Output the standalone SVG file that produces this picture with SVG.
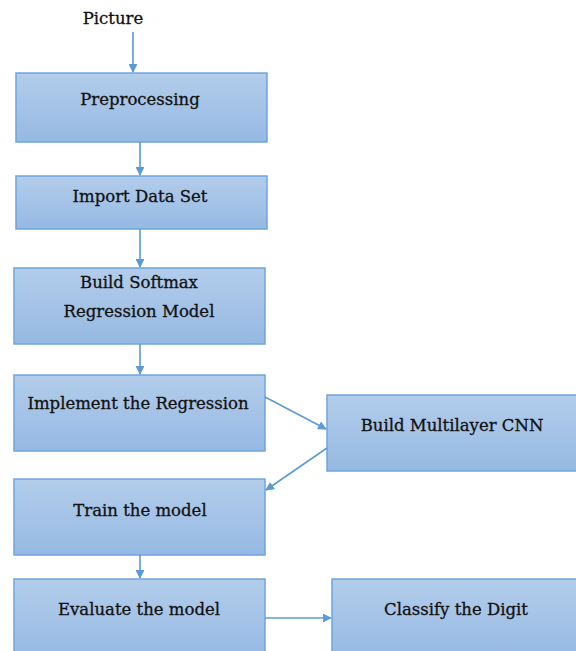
<svg xmlns="http://www.w3.org/2000/svg" width="576" height="651" viewBox="0 0 576 651">
<defs>
<linearGradient id="g" x1="0" y1="0" x2="0" y2="1">
<stop offset="0" stop-color="#b3cdeb"/>
<stop offset="1" stop-color="#95b9e3"/>
</linearGradient>
<marker id="ah" viewBox="0 0 10 10" refX="9" refY="5" markerWidth="5.5" markerHeight="5.5" orient="auto" markerUnits="strokeWidth">
<path d="M0,0 L10,5 L0,10 Z" fill="#5b9bd5"/>
</marker>
</defs>
<style>
.box{fill:url(#g);stroke:#6fa5dd;stroke-width:1.5}
.t{font-family:"DejaVu Serif","Liberation Serif",serif;font-size:16.5px;fill:#111;stroke:#111;stroke-width:0.3;text-anchor:middle}
.c{stroke:#5b9bd5;stroke-width:1.6;fill:none;marker-end:url(#ah)}
</style>
<rect width="576" height="651" fill="#ffffff"/>
<g id="picture"><text class="t" x="113" y="24">Picture</text></g>
<g id="preprocessing"><rect class="box" x="16" y="73" width="251" height="69"/><text class="t" x="140" y="105">Preprocessing</text></g>
<g id="import"><rect class="box" x="16" y="176" width="251" height="53"/><text class="t" x="140" y="202">Import Data Set</text></g>
<g id="softmax"><rect class="box" x="14" y="268" width="251" height="76"/><text class="t" x="139" y="288">Build Softmax</text><text class="t" x="139" y="317">Regression Model</text></g>
<g id="implement"><rect class="box" x="14" y="375" width="251" height="76"/><text class="t" x="138" y="409">Implement the Regression</text></g>
<g id="cnn"><rect class="box" x="327" y="395" width="251" height="76"/><text class="t" x="452" y="431">Build Multilayer CNN</text></g>
<g id="train"><rect class="box" x="14" y="479" width="251" height="76"/><text class="t" x="140" y="516">Train the model</text></g>
<g id="evaluate"><rect class="box" x="14" y="579" width="251" height="80"/><text class="t" x="139" y="615">Evaluate the model</text></g>
<g id="classify"><rect class="box" x="332" y="579" width="246" height="80"/><text class="t" x="456" y="615">Classify the Digit</text></g>
<g id="connectors">
<line class="c" x1="133" y1="32" x2="133" y2="72"/>
<line class="c" x1="140" y1="142" x2="140" y2="175"/>
<line class="c" x1="140" y1="229" x2="140" y2="267"/>
<line class="c" x1="140" y1="344" x2="140" y2="374"/>
<line class="c" x1="265" y1="397" x2="326" y2="429"/>
<line class="c" x1="327" y1="448" x2="266" y2="490"/>
<line class="c" x1="140" y1="555" x2="140" y2="578"/>
<line class="c" x1="265" y1="618" x2="331" y2="618"/>
</g>
</svg>
